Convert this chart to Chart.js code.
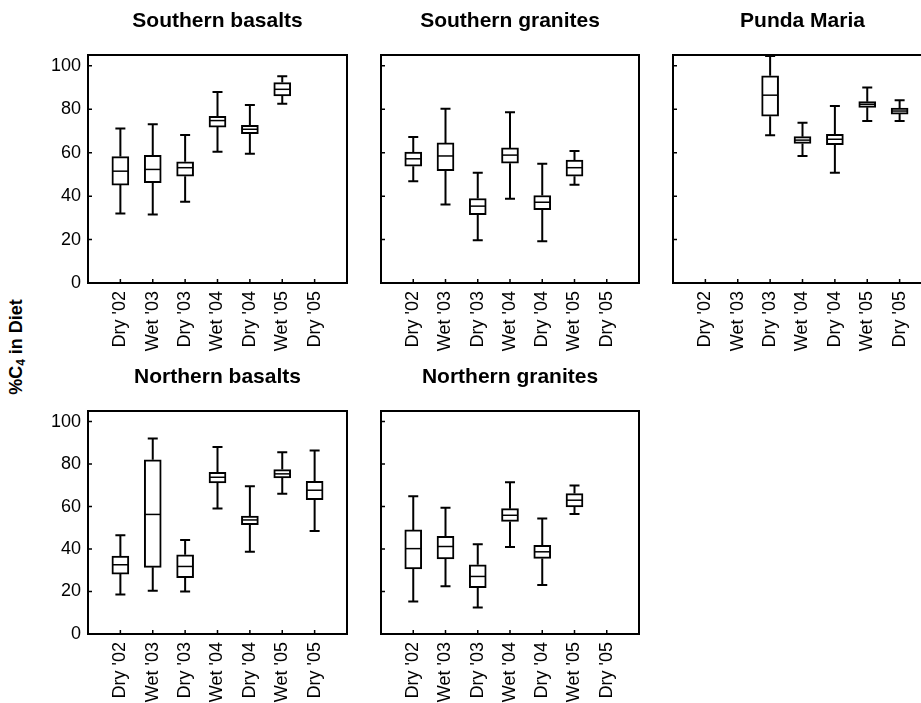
<!DOCTYPE html>
<html>
<head>
<meta charset="utf-8">
<script src="https://cdn.jsdelivr.net/npm/chart.js@4.4.1/dist/chart.umd.min.js"></script>
<style>
  html, body { margin: 0; padding: 0; background: #fff; overflow: hidden; }
  body { width: 921px; height: 703px; position: relative; }
  canvas { position: absolute; }
  #ytitle {
    position: absolute; left: 17px; top: 347px;
    transform: translate(-50%, -50%) rotate(-90deg);
    font: bold 18px 'Liberation Sans', Arial, sans-serif;
    white-space: nowrap; color: #000;
  }
  #ytitle sub { font-size: 12px; vertical-align: -3px; }
</style>
</head>
<body>
<div id="ytitle">%C<sub>4</sub> in Diet</div>
<canvas id="p1" width="303" height="353" style="left:48px;top:0px"></canvas>
<canvas id="p2" width="266" height="353" style="left:377px;top:0px"></canvas>
<canvas id="p3" width="267" height="353" style="left:669px;top:0px"></canvas>
<canvas id="p4" width="303" height="348" style="left:48px;top:356px"></canvas>
<canvas id="p5" width="266" height="348" style="left:377px;top:356px"></canvas>
<script>
const seasons = ["Dry '02", "Wet '03", "Dry '03", "Wet '04", "Dry '04", "Wet '05", "Dry '05"];
const yTicks = [0, 20, 40, 60, 80, 100];

// Southern basalts
const sbMin = [32, 31.5, 37.4, 60.5, 59.5, 82.6, null];
const sbQ1  = [45.1, 46.2, 49.2, 71.8, 68.8, 86.2, null];
const sbMed = [51.5, 52.3, 53.1, 74.8, 70.8, 89.2, null];
const sbQ3  = [58.2, 58.8, 55.8, 76.8, 72.6, 92.3, null];
const sbMax = [71.1, 73.1, 68.2, 88, 82, 95.2, null];

// Southern granites
const sgMin = [46.9, 36.2, 19.7, 38.8, 19.2, 45.2, null];
const sgQ1  = [53.8, 51.7, 31.5, 55.2, 33.8, 49.2, null];
const sgMed = [57.2, 58.5, 35.4, 58.9, 37.2, 53.1, null];
const sgQ3  = [60.3, 64.5, 38.9, 62.2, 40.3, 56.6, null];
const sgMax = [67.2, 80.3, 50.8, 78.6, 54.9, 60.8, null];

// Punda Maria
const pmMin = [null, null, 68, 58.5, 50.8, 74.6, 74.6];
const pmQ1  = [null, null, 76.8, 64.3, 63.7, 80.9, 77.8];
const pmMed = [null, null, 86.5, 65.8, 66.2, 82.3, 79.2];
const pmQ3  = [null, null, 95.4, 67.4, 68.5, 83.5, 80.5];
const pmMax = [null, null, 104.5, 73.8, 81.5, 90, 84.2];

// Northern basalts
const nbMin = [18.6, 20.4, 20, 59.1, 38.7, 66, 48.5];
const nbQ1  = [28.2, 31.4, 26.5, 71.1, 51.5, 73.5, 63.3];
const nbMed = [32.6, 56.3, 31.8, 73.8, 53.7, 75.4, 67.7];
const nbQ3  = [36.7, 82, 37.3, 76.1, 55.5, 77.4, 71.9];
const nbMax = [46.5, 92, 44.3, 88, 69.6, 85.6, 86.4];

// Northern granites
const ngMin = [15.3, 22.5, 12.5, 41, 23.1, 56.5, null];
const ngQ1  = [30.6, 35.3, 21.8, 53, 35.6, 59.8, null];
const ngMed = [40.2, 41.2, 27.1, 55.9, 38.7, 63, null];
const ngQ3  = [49, 46, 32.6, 59, 41.8, 66.1, null];
const ngMax = [64.9, 59.4, 42.3, 71.5, 54.4, 69.9, null];

const tickFont = { family: "'Liberation Sans', Arial, sans-serif", size: 18 };
const titleFont = { family: "'Liberation Sans', Arial, sans-serif", size: 21, weight: 'bold' };

// pad with an empty slot on each side so the 7 seasons sit at 1..7 of 0..8
const pad = arr => [null, ...arr, null];

// whiskers, medians, frame and inward tick marks
const boxExtras = {
  id: 'boxExtras',
  afterDatasetsDraw(chart, args, opts) {
    const { ctx, chartArea: a, scales: { x, y } } = chart;
    ctx.save();
    ctx.strokeStyle = '#000';
    ctx.lineWidth = 2;
    opts.lo.forEach((lo, i) => {
      if (lo == null) return;
      const px = x.getPixelForValue(i);
      const cap = 5;
      ctx.beginPath();
      ctx.moveTo(px, y.getPixelForValue(lo));
      ctx.lineTo(px, y.getPixelForValue(opts.q1[i]));
      ctx.moveTo(px, y.getPixelForValue(opts.q3[i]));
      ctx.lineTo(px, y.getPixelForValue(opts.hi[i]));
      ctx.moveTo(px - cap, y.getPixelForValue(lo));
      ctx.lineTo(px + cap, y.getPixelForValue(lo));
      ctx.moveTo(px - cap, y.getPixelForValue(opts.hi[i]));
      ctx.lineTo(px + cap, y.getPixelForValue(opts.hi[i]));
      ctx.stroke();
      ctx.lineWidth = 1.5;
      ctx.beginPath();
      ctx.moveTo(px - 8, y.getPixelForValue(opts.med[i]));
      ctx.lineTo(px + 8, y.getPixelForValue(opts.med[i]));
      ctx.stroke();
      ctx.lineWidth = 2;
    });
    ctx.strokeRect(a.left, a.top, a.right - a.left, a.bottom - a.top);
    ctx.lineWidth = 1.5;
    ctx.beginPath();
    yTicks.forEach(v => {
      const py = y.getPixelForValue(v);
      ctx.moveTo(a.left, py);
      ctx.lineTo(a.left + 4, py);
    });
    seasons.forEach((s, i) => {
      const px = x.getPixelForValue(i + 1);
      ctx.moveTo(px, a.bottom);
      ctx.lineTo(px, a.bottom - 4);
    });
    ctx.stroke();
    ctx.restore();
  }
};

function panel(id, title, lo, q1, med, q3, hi, showY, titleTop, titleBottom) {
  const boxes = q1.map((v, i) => v == null ? null : [v, q3[i]]);
  new Chart(document.getElementById(id), {
    type: 'bar',
    data: {
      labels: ['', ...seasons, ''],
      datasets: [{
        data: pad(boxes),
        backgroundColor: '#fff',
        borderColor: '#000',
        borderWidth: 2,
        borderSkipped: false,
        barThickness: 17
      }]
    },
    options: {
      responsive: false,
      animation: false,
      devicePixelRatio: 1,
      layout: { padding: { right: 4 } },
      plugins: {
        legend: { display: false },
        tooltip: { enabled: false },
        title: {
          display: true,
          text: title,
          fullSize: false,
          color: '#000',
          font: titleFont,
          padding: { top: titleTop, bottom: titleBottom }
        },
        boxExtras: { lo: pad(lo), q1: pad(q1), med: pad(med), q3: pad(q3), hi: pad(hi) }
      },
      scales: {
        x: {
          offset: false,
          grid: { display: false, drawTicks: false },
          border: { display: false },
          ticks: { color: '#000', font: tickFont, maxRotation: 90, minRotation: 90, autoSkip: false, padding: 8 },
          afterFit: s => { s.height = 70; s.paddingLeft = 0; s.paddingRight = 0; }
        },
        y: {
          min: 0,
          max: 105,
          grid: { display: false, drawTicks: false },
          border: { display: false },
          ticks: { display: showY, color: '#000', font: tickFont, padding: 7 },
          afterBuildTicks: s => { s.ticks = yTicks.map(v => ({ value: v })); },
          afterFit: s => { s.width = showY ? 40 : 4; s.paddingTop = 0; s.paddingBottom = 0; }
        }
      }
    },
    plugins: [boxExtras]
  });
}

panel('p1', 'Southern basalts', sbMin, sbQ1, sbMed, sbQ3, sbMax, true, 8.5, 21.3);
panel('p2', 'Southern granites', sgMin, sgQ1, sgMed, sgQ3, sgMax, false, 8.5, 21.3);
panel('p3', 'Punda Maria', pmMin, pmQ1, pmMed, pmQ3, pmMax, false, 8.5, 21.3);
panel('p4', 'Northern basalts', nbMin, nbQ1, nbMed, nbQ3, nbMax, true, 9, 20.8);
panel('p5', 'Northern granites', ngMin, ngQ1, ngMed, ngQ3, ngMax, false, 9, 20.8);
</script>
</body>
</html>
